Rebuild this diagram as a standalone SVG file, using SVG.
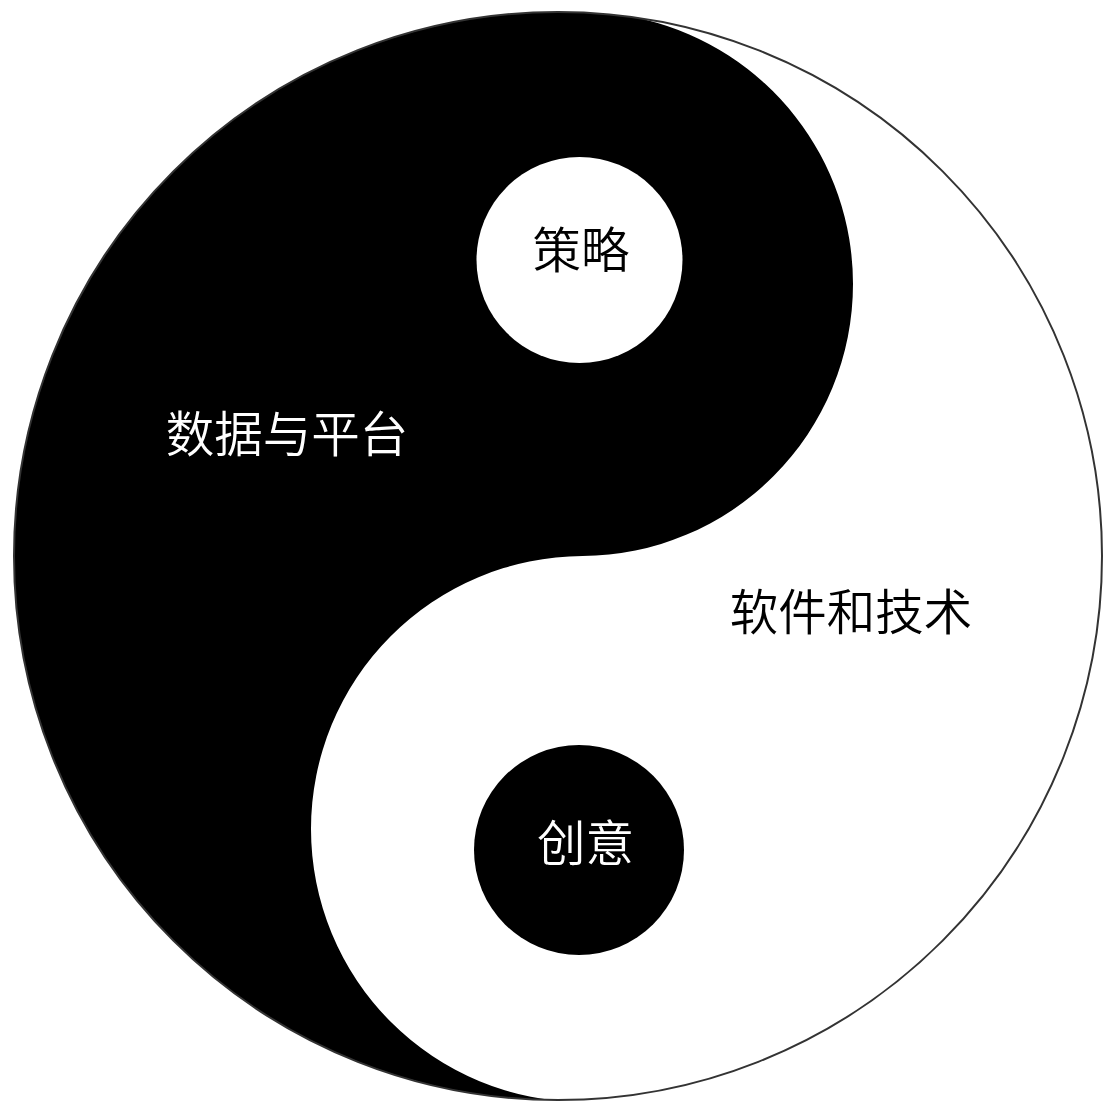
<svg xmlns="http://www.w3.org/2000/svg" width="1103" height="1104" viewBox="0 0 1103 1104">
  <style>
    .lbl { font-family: "Noto Sans CJK SC", "Noto Sans CJK TC", sans-serif; font-size: 48.5px; font-weight: 350; text-anchor: middle; }
    .onblack { fill: #ffffff; }
    .onwhite { fill: #000000; }
  </style>
  <defs>
    <clipPath id="outerClip">
      <circle cx="558" cy="556" r="544"/>
    </clipPath>
  </defs>
  <rect width="1103" height="1104" fill="#ffffff"/>
  <g id="yin-yang">
    <circle cx="558" cy="556" r="544" fill="#ffffff"/>
    <g clip-path="url(#outerClip)">
      <path d="M582.5,556 A272,272 0 0,0 853,284 A272,272 0 0,0 646.5,20 L646.5,-10 L-10,-10 L-10,1114 L584,1114 L584,1102 A273,273 0 0,1 311,829 A273,273 0 0,1 582.5,556 Z" fill="#000000"/>
    </g>
    <circle cx="558" cy="556" r="544" fill="none" stroke="#333333" stroke-width="2"/>
  </g>
  <g id="node-data-platform">
    <text class="lbl onblack" x="287" y="452">数据与平台</text>
  </g>
  <g id="node-software-tech">
    <text class="lbl onwhite" x="851" y="630">软件和技术</text>
  </g>
  <g id="node-strategy">
    <circle cx="579.5" cy="260" r="103" fill="#ffffff"/>
    <text class="lbl onwhite" x="581" y="268">策略</text>
  </g>
  <g id="node-creativity">
    <circle cx="579" cy="850" r="105" fill="#000000"/>
    <text class="lbl onblack" x="585.5" y="861">创意</text>
  </g>
  <g id="connectors"></g>
</svg>
